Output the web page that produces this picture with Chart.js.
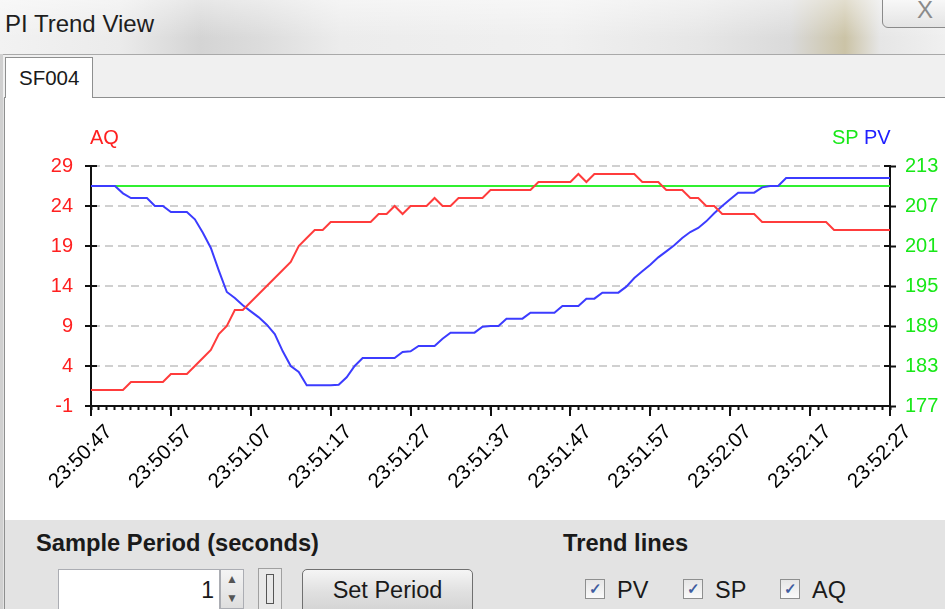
<!DOCTYPE html>
<html lang="en">
<head>
  <meta charset="UTF-8" />
  <title>PI Trend View</title>
  <style>
    body {
      margin: 0;
      width: 945px;
      height: 609px;
      overflow: hidden;
      position: relative;
      font-family: "Liberation Sans", Arial, sans-serif;
      background: #e3e3e3;
      color: #1a1a1a;
    }
    .abs { position: absolute; }
    .titlebar {
      left: 0; top: 0; width: 945px; height: 54px;
      background:
        linear-gradient(to bottom, rgba(255,255,255,0.45), rgba(255,255,255,0) 70%),
        linear-gradient(to right, #f2f2f2 0px, #ebebeb 120px, #d4d4d4 200px, #dcdcdc 260px, #ececec 340px, #f0f0f0 560px, #e6e6e6 700px, #dadada 790px, #cbc3a6 845px, #e6e6e6 880px, #f0f0f0 945px);
    }
    .title { left: 5px; top: 10px; font-size: 24px; color: #1e1e1e; }
    .close {
      left: 882px; top: -8px; width: 70px; height: 34px;
      border: 1px solid #8a8a8a; border-radius: 0 0 0 6px;
      background: linear-gradient(#fdfdfd, #e4e4e4);
      color: #8a8a8a; font-size: 24px; text-align: center; line-height: 34px;
      text-indent: 14px;
    }
    .strip {
      left: 0; top: 54px; width: 945px; height: 43px;
      background: #f0f0f0; border-top: 1px solid #a9a9a9;
    }
    .panel {
      left: 4px; top: 97px; width: 941px; height: 423px;
      background: #fff; border-top: 1px solid #8e8f8f; border-left: 1px solid #8e8f8f;
    }
    .bottom {
      left: 4px; top: 520px; width: 941px; height: 89px;
      background: #e3e3e3; border-left: 1px solid #8e8f8f;
    }
    .leftedge { left: 0; top: 54px; width: 3px; height: 555px; background: #d0d0d0; }
    .tab {
      left: 5px; top: 57px; width: 88px; height: 41px;
      background: #fff; border: 1px solid #8e8f8f; border-bottom: none;
      font-size: 20.5px; line-height: 40px; padding-left: 13px; box-sizing: border-box;
    }
    .chartbox { left: 8px; top: 100px; width: 937px; height: 420px; }
    .axtitle { font-size: 20px; line-height: 20px; top: 127px; }
    .bold { font-weight: bold; font-size: 23.7px; }
    .input {
      left: 58px; top: 569px; width: 162px; height: 44px;
      background: #fff; border: 1px solid #abadb3; box-sizing: border-box;
      font-size: 23px; text-align: right; padding: 7px 5px 0 0;
    }
    .spin {
      left: 220px; top: 569px; width: 24px; height: 40px;
      border: 1px solid #abadb3; box-sizing: border-box;
      background: linear-gradient(#f4f4f4, #dedede);
      font-size: 12px; color: #555; text-align: center; line-height: 19px;
    }
    .box2 {
      left: 258px; top: 568px; width: 24px; height: 42px;
      border: 1px solid #a0a0a0; box-sizing: border-box; background: #e8e8e8;
    }
    .box2 div { margin: 5px auto 0; width: 6px; height: 28px; border: 1px solid #555; }
    .button {
      left: 302px; top: 569px; width: 171px; height: 46px;
      border: 1px solid #707070; border-radius: 5px; box-sizing: border-box;
      background: linear-gradient(#f5f5f5, #e0e0e0 50%, #d2d2d2);
      font-size: 23.5px; text-align: center; line-height: 40px;
    }
    .check {
      top: 579px; width: 20px; height: 20px;
      border: 1px solid #8e8f8f; box-sizing: border-box;
      background: linear-gradient(#e6e6e6, #fafafa);
      color: #3f5da0; font-size: 15px; line-height: 18px; text-align: center; font-weight: bold;
    }
    .clabel { top: 577px; font-size: 23.5px; }
  </style>
</head>
<body>
  <div class="abs titlebar"></div>
  <div class="abs title">PI Trend View</div>
  <div class="abs close">X</div>
  <div class="abs strip"></div>
  <div class="abs leftedge"></div>
  <div class="abs panel"></div>
  <div class="abs bottom"></div>
  <div class="abs tab">SF004</div>

  <div class="abs chartbox"><canvas id="trend"></canvas></div>
  <div class="abs axtitle" style="left: 90px; color: #ff2020;">AQ</div>
  <div class="abs axtitle" style="left: 832px;"><span style="color: #18e818;">SP</span> <span style="color: #2020ff;">PV</span></div>

  <div class="abs bold" style="left: 36px; top: 530px;">Sample Period (seconds)</div>
  <div class="abs input">1</div>
  <div class="abs spin">&#9650;<br>&#9660;</div>
  <div class="abs box2"><div></div></div>
  <div class="abs button">Set Period</div>

  <div class="abs bold" style="left: 563px; top: 530px;">Trend lines</div>
  <div class="abs check" style="left: 585px;">&#10003;</div>
  <div class="abs clabel" style="left: 617px;">PV</div>
  <div class="abs check" style="left: 683px;">&#10003;</div>
  <div class="abs clabel" style="left: 715px;">SP</div>
  <div class="abs check" style="left: 780px;">&#10003;</div>
  <div class="abs clabel" style="left: 812px;">AQ</div>

  <script src="https://cdn.jsdelivr.net/npm/chart.js"></script>
  <script>
    // one sample per second, 23:50:47 .. 23:52:27
    const startTime = '23:50:47';
    const sampleCount = 101;

    const aqValues = [
      1, 1, 1, 1, 1, 2, 2, 2, 2, 2, 3, 3, 3, 4, 5, 6, 8, 9, 11, 11,
      12, 13, 14, 15, 16, 17, 19, 20, 21, 21, 22, 22, 22, 22, 22, 22, 23, 23, 24, 23,
      24, 24, 24, 25, 24, 24, 25, 25, 25, 25, 26, 26, 26, 26, 26, 26, 27, 27, 27, 27,
      27, 28, 27, 28, 28, 28, 28, 28, 28, 27, 27, 27, 26, 26, 26, 25, 25, 24, 24, 23,
      23, 23, 23, 23, 22, 22, 22, 22, 22, 22, 22, 22, 22, 21, 21, 21, 21, 21, 21, 21, 21
    ];

    const pvValues = [
      210, 210, 210, 210, 208.9, 208.2, 208.2, 208.2, 207, 207, 206.1, 206.1, 206.1, 205, 203, 200.7, 197.3, 194.1, 193.2, 192.1,
      191.2, 190.3, 189.2, 187.8, 185.2, 183, 182.1, 180.1, 180.1, 180.1, 180.1, 180.2, 181.3, 183, 184.2, 184.2, 184.2, 184.2, 184.2, 185.1,
      185.2, 186, 186, 186, 187.1, 188, 188, 188, 188, 188.9, 189, 189, 190.1, 190.1, 190.1, 191, 191, 191, 191, 192,
      192, 192, 193.1, 193.1, 194, 194, 194, 194.9, 196.2, 197.2, 198.2, 199.3, 200.2, 201.1, 202.2, 203.1, 203.7, 204.7, 205.9, 207,
      208, 209, 209, 209, 209.8, 210, 210, 211.2, 211.2, 211.2, 211.2, 211.2, 211.2, 211.2, 211.2, 211.2, 211.2, 211.2, 211.2, 211.2, 211.2
    ];

    const spValues = [
      210, 210, 210, 210, 210, 210, 210, 210, 210, 210, 210, 210, 210, 210, 210, 210, 210, 210, 210, 210,
      210, 210, 210, 210, 210, 210, 210, 210, 210, 210, 210, 210, 210, 210, 210, 210, 210, 210, 210, 210,
      210, 210, 210, 210, 210, 210, 210, 210, 210, 210, 210, 210, 210, 210, 210, 210, 210, 210, 210, 210,
      210, 210, 210, 210, 210, 210, 210, 210, 210, 210, 210, 210, 210, 210, 210, 210, 210, 210, 210, 210,
      210, 210, 210, 210, 210, 210, 210, 210, 210, 210, 210, 210, 210, 210, 210, 210, 210, 210, 210, 210, 210
    ];

    // time labels for every sample
    const timeLabels = [];
    const [h0, m0, s0] = startTime.split(':').map(Number);
    for (let i = 0; i < sampleCount; i++) {
      const t = h0 * 3600 + m0 * 60 + s0 + i;
      const hh = String(Math.floor(t / 3600) % 24).padStart(2, '0');
      const mm = String(Math.floor(t / 60) % 60).padStart(2, '0');
      const ss = String(t % 60).padStart(2, '0');
      timeLabels.push(`${hh}:${mm}:${ss}`);
    }

    const red = '#ff3c3c';
    const blue = '#3c3cff';
    const green = '#30f030';

    // longer major ticks on x, short inner ticks on both y axes
    const tickMarks = {
      id: 'tickMarks',
      afterDraw(chart) {
        const c = chart.ctx;
        const xs = chart.scales.x;
        const area = chart.chartArea;
        c.save();
        c.strokeStyle = '#111';
        c.lineWidth = 2;
        c.beginPath();
        for (let i = 0; i < timeLabels.length; i += 10) {
          const x = Math.round(xs.getPixelForTick(i));
          c.moveTo(x, area.bottom);
          c.lineTo(x, area.bottom + 10);
        }
        chart.scales.y.ticks.forEach(t => {
          const y = Math.round(chart.scales.y.getPixelForValue(t.value));
          c.moveTo(area.left, y);
          c.lineTo(area.left + 6, y);
        });
        chart.scales.y1.ticks.forEach(t => {
          const y = Math.round(chart.scales.y1.getPixelForValue(t.value));
          c.moveTo(area.right - 6, y);
          c.lineTo(area.right, y);
        });
        c.stroke();
        c.restore();
      }
    };

    Chart.defaults.font.family = '"Liberation Sans", Arial, sans-serif';

    new Chart(document.getElementById('trend'), {
      type: 'line',
      data: {
        labels: timeLabels,
        datasets: [
          { label: 'AQ', data: aqValues, yAxisID: 'y', borderColor: red, borderWidth: 2 },
          { label: 'PV', data: pvValues, yAxisID: 'y1', borderColor: blue, borderWidth: 2 },
          { label: 'SP', data: spValues, yAxisID: 'y1', borderColor: green, borderWidth: 2 }
        ]
      },
      options: {
        responsive: true,
        maintainAspectRatio: false,
        animation: false,
        layout: { padding: { top: 66, left: 0, right: 0, bottom: 0 } },
        elements: { point: { radius: 0 }, line: { tension: 0 } },
        plugins: { legend: { display: false }, tooltip: { enabled: false } },
        scales: {
          x: {
            afterFit: s => { s.height = 114; },
            grid: { drawOnChartArea: false, tickLength: 4, tickColor: '#111', tickWidth: 2 },
            border: { color: '#111', width: 2 },
            ticks: {
              autoSkip: false,
              maxRotation: 45,
              minRotation: 45,
              padding: 10,
              labelOffset: 18,
              color: '#000',
              font: { size: 20.5 },
              callback: function (value, index) {
                return index % 10 === 0 ? this.getLabelForValue(value) : '';
              }
            }
          },
          y: {
            position: 'left',
            min: -1,
            max: 29,
            afterFit: s => { s.width = 83; },
            grid: { color: '#d0d0d0', lineWidth: 2, tickColor: '#111', tickWidth: 2, tickLength: 6 },
            border: { color: '#111', width: 2, dash: [8, 5] },
            ticks: { stepSize: 5, color: '#ff2020', padding: 12, font: { size: 20 } }
          },
          y1: {
            position: 'right',
            min: 177,
            max: 213,
            afterFit: s => { s.width = 55; },
            grid: { drawOnChartArea: false, tickColor: '#111', tickWidth: 2, tickLength: 6 },
            border: { color: '#111', width: 2 },
            ticks: { stepSize: 6, color: '#18e818', padding: 9, font: { size: 20 } }
          }
        }
      },
      plugins: [tickMarks]
    });
  </script>
</body>
</html>
